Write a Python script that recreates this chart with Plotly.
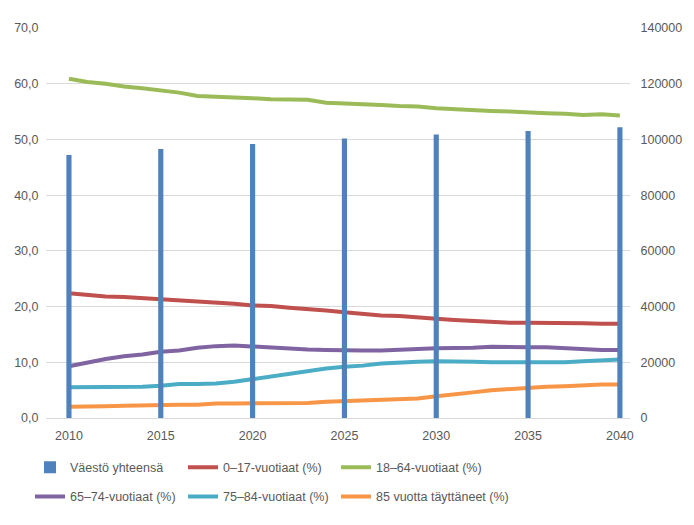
import plotly.graph_objects as go

years = list(range(2010, 2041))
bar_years = [2010, 2015, 2020, 2025, 2030, 2035, 2040]
vaesto = [94400, 96600, 98400, 100300, 101800, 103000, 104400]

age_0_17 = [22.4, 22.1, 21.8, 21.7, 21.5, 21.4, 21.2, 21.0, 20.8, 20.5, 20.2,
            20.1, 19.8, 19.6, 19.3, 19.0, 18.7, 18.4, 18.3, 18.0, 17.8,
            17.6, 17.4, 17.3, 17.1, 17.1, 17.1, 17.1, 17.0, 16.9, 16.9]
age_18_64 = [60.9, 60.3, 60.0, 59.5, 59.2, 58.8, 58.4, 57.8, 57.7, 57.5, 57.4,
             57.2, 57.1, 57.1, 56.6, 56.5, 56.3, 56.2, 56.0, 55.9, 55.6,
             55.4, 55.3, 55.1, 55.0, 54.8, 54.7, 54.6, 54.4, 54.5, 54.3]
age_65_74 = [9.3, 10.0, 10.6, 11.1, 11.4, 11.9, 12.1, 12.6, 12.9, 13.0, 12.8,
             12.7, 12.5, 12.3, 12.2, 12.1, 12.1, 12.1, 12.3, 12.4, 12.5,
             12.5, 12.6, 12.8, 12.7, 12.7, 12.7, 12.5, 12.4, 12.2, 12.2]
age_75_84 = [5.5, 5.5, 5.5, 5.6, 5.6, 5.8, 6.1, 6.1, 6.2, 6.5, 7.0,
             7.4, 8.0, 8.4, 8.9, 9.2, 9.4, 9.8, 10.0, 10.1, 10.2,
             10.2, 10.1, 10.0, 10.0, 9.9, 10.0, 10.0, 10.2, 10.3, 10.5]
age_85 = [2.0, 2.0, 2.1, 2.2, 2.3, 2.4, 2.4, 2.4, 2.6, 2.6, 2.6,
          2.6, 2.7, 2.7, 2.9, 3.0, 3.1, 3.2, 3.3, 3.5, 3.9,
          4.2, 4.6, 5.0, 5.2, 5.5, 5.6, 5.7, 5.9, 6.0, 6.0]

names = ["Väestö yhteensä", "0–17-vuotiaat (%)", "18–64-vuotiaat (%)",
         "65–74-vuotiaat (%)", "75–84-vuotiaat (%)", "85 vuotta täyttäneet (%)"]

FONT = "Liberation Sans, Arial, sans-serif"
GRAY = "#595959"
FS = 12.5

fig = go.Figure()

# legend column for each line series (0-17, 18-64, 65-74, 75-84, 85+)
line_series = [(age_0_17, "#C0504D", "legend2", 1),
               (age_18_64, "#9BBB59", "legend3", 1),
               (age_65_74, "#8064A2", "legend", 2),
               (age_75_84, "#4BACC6", "legend2", 2),
               (age_85, "#F79646", "legend3", 2)]
for i, (vals, col, leg, rank) in enumerate(line_series):
    fig.add_trace(go.Scatter(x=years, y=vals, mode="lines", name=names[i + 1],
                             line=dict(color=col, width=4), yaxis="y",
                             legend=leg, legendgroup=names[i + 1],
                             legendrank=rank))

fig.add_trace(go.Bar(x=bar_years, y=vaesto, name=names[0], width=0.28,
                     marker=dict(color="#4F81BD", line=dict(width=0)),
                     yaxis="y2", legend="legend", legendgroup=names[0],
                     legendrank=1))

leg_common = dict(orientation="v", xanchor="left", yanchor="bottom",
                  xref="paper", yref="paper", y=-0.240,
                  traceorder="grouped", tracegroupgap=10,
                  font=dict(size=FS, color=GRAY, family=FONT), itemwidth=30,
                  bgcolor="rgba(0,0,0,0)")

fig.update_layout(
    width=686, height=517,
    margin=dict(l=38, r=64, t=20, b=107),
    paper_bgcolor="white", plot_bgcolor="white",
    separators=", ",
    font=dict(family=FONT, size=FS, color=GRAY),
    xaxis=dict(range=[2008.75, 2040.55], tickmode="array", tickvals=bar_years,
               ticktext=[str(y) for y in bar_years], showgrid=False,
               showline=True, linecolor="#d9d9d9", linewidth=1, ticks="",
               tickfont=dict(size=FS, color=GRAY), zeroline=False,
               ticklabelstandoff=6, automargin=False),
    yaxis=dict(range=[0, 70], dtick=10, tickformat=".1f", showgrid=True,
               gridcolor="#d9d9d9", gridwidth=1, zeroline=False,
               ticks="outside", ticklen=4, tickcolor="rgba(0,0,0,0)",
               tickfont=dict(size=FS, color=GRAY), showline=False,
               automargin=False),
    yaxis2=dict(range=[0, 140000], dtick=20000, tickformat="d", overlaying="y",
                side="right", showgrid=False, zeroline=False,
                ticks="outside", ticklen=7, tickcolor="rgba(0,0,0,0)",
                tickfont=dict(size=FS, color=GRAY), automargin=False),
    legend=dict(x=-0.0274, **leg_common),
    legend2=dict(x=0.2346, **leg_common),
    legend3=dict(x=0.4966, **leg_common),
    showlegend=True,
    shapes=[dict(type="rect", xref="paper", yref="paper", x0=-0.07, x1=1.2,
                 y0=-0.35, y1=1.054, line=dict(color="#d9d9d9", width=1),
                 fillcolor="rgba(0,0,0,0)", layer="below")],
)

fig.write_html("out.html")
